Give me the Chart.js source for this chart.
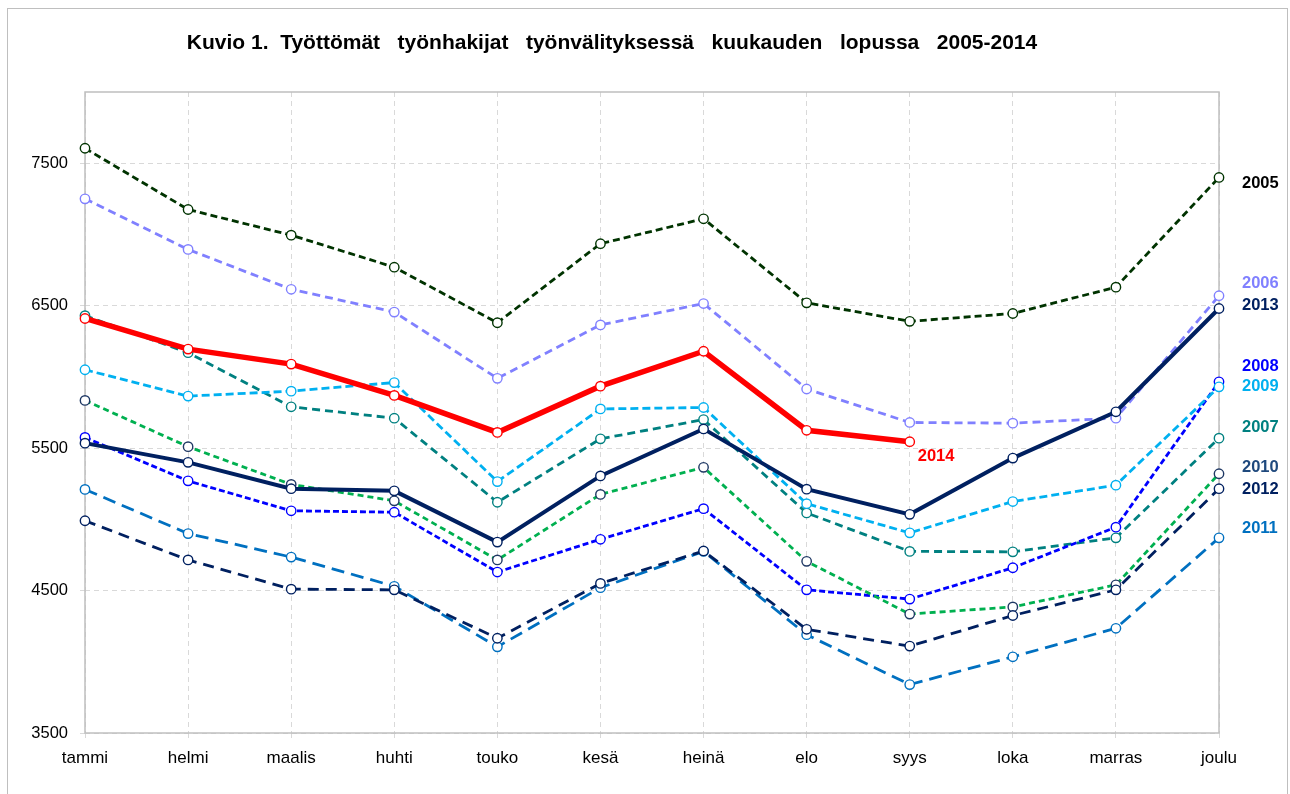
<!DOCTYPE html>
<html lang="fi">
<head>
<meta charset="utf-8">
<title>Kuvio 1</title>
<script src="https://cdn.jsdelivr.net/npm/chart.js@4/dist/chart.umd.min.js"></script>
<style>
  html, body { margin: 0; padding: 0; background: #fff; }
  #wrap { width: 1290px; height: 794px; }
</style>
</head>
<body>
<div id="wrap"><canvas id="chart" width="1290" height="794"></canvas></div>
<script>
// --- Data ---
const months = ['tammi', 'helmi', 'maalis', 'huhti', 'touko', 'kesä', 'heinä', 'elo', 'syys', 'loka', 'marras', 'joulu'];
const yTicks = [3500, 4500, 5500, 6500, 7500];

const y2005 = [7605, 7175, 6995, 6770, 6380, 6935, 7110, 6520, 6390, 6445, 6630, 7400];
const y2006 = [7250, 6895, 6615, 6455, 5990, 6365, 6515, 5915, 5680, 5675, 5710, 6570];
const y2007 = [6430, 6170, 5790, 5710, 5120, 5565, 5700, 5045, 4775, 4772, 4870, 5570];
const y2008 = [5575, 5270, 5060, 5050, 4630, 4860, 5075, 4505, 4440, 4660, 4945, 5965];
const y2009 = [6050, 5865, 5900, 5960, 5265, 5775, 5785, 5110, 4905, 5125, 5240, 5930];
const y2010 = [5835, 5510, 5245, 5130, 4715, 5175, 5365, 4705, 4335, 4385, 4540, 5320];
const y2011 = [5210, 4900, 4735, 4530, 4105, 4520, 4775, 4190, 3840, 4035, 4235, 4870];
const y2012 = [4990, 4715, 4510, 4505, 4165, 4550, 4778, 4228, 4110, 4325, 4505, 5215];
const y2013 = [5535, 5400, 5215, 5200, 4840, 5305, 5635, 5212, 5035, 5430, 5755, 6480];
const y2014 = [6410, 6195, 6090, 5870, 5610, 5935, 6180, 5625, 5545];

const titleText = 'Kuvio 1.  Työttömät   työnhakijat   työnvälityksessä   kuukauden   lopussa   2005-2014';

const FONT = '"Liberation Sans", Arial, sans-serif';

// --- Series styles ---
function series(label, data, color, dash, width, order, pointColor) {
    return {
        label: label,
        data: data,
        borderColor: color,
        borderWidth: width,
        borderDash: dash,
        pointRadius: 4.7,
        pointHoverRadius: 4.7,
        pointBorderWidth: 1.4,
        pointBorderColor: pointColor || color,
        pointBackgroundColor: '#ffffff',
        fill: false,
        tension: 0,
        order: order
    };
}

const datasets = [
    series('2005', y2005, '#003300', [7, 4], 2.8, 9),
    series('2006', y2006, '#8080FF', [8, 5], 2.8, 8),
    series('2007', y2007, '#008080', [8, 5], 2.8, 7),
    series('2008', y2008, '#0000FF', [6, 3], 2.8, 6),
    series('2009', y2009, '#00B0F0', [8, 4], 2.8, 5),
    series('2010', y2010, '#00B050', [6, 4], 2.8, 4, '#1F3864'),
    series('2011', y2011, '#0070C0', [13, 7], 2.8, 3),
    series('2012', y2012, '#002060', [11, 7], 2.8, 2),
    series('2013', y2013, '#002060', [], 4, 1),
    series('2014', y2014, '#FF0000', [], 5.5, 0)
];

// label text, colour and the value it sits at on the y scale
const yearLabels = [
    { text: '2005', color: '#000000', at: 7360 },
    { text: '2006', color: '#8080FF', at: 6658 },
    { text: '2013', color: '#002060', at: 6504 },
    { text: '2008', color: '#0000FF', at: 6075 },
    { text: '2009', color: '#00B0F0', at: 5935 },
    { text: '2007', color: '#008080', at: 5647 },
    { text: '2010', color: '#1F497D', at: 5367 },
    { text: '2012', color: '#002060', at: 5212 },
    { text: '2011', color: '#0070C0', at: 4939 }
];

const decor = {
    id: 'decor',
    beforeDraw(chart) {
        const ctx = chart.ctx;
        ctx.save();
        ctx.strokeStyle = '#bfbfbf';
        ctx.lineWidth = 1;
        ctx.strokeRect(7.5, 8.5, 1280, 800);
        ctx.fillStyle = '#000';
        ctx.font = 'bold 21px ' + FONT;
        ctx.textAlign = 'center';
        ctx.textBaseline = 'middle';
        ctx.fillText(titleText, 612, 43);
        ctx.restore();
    },
    beforeDatasetsDraw(chart) {
        const a = chart.chartArea;
        const ctx = chart.ctx;
        ctx.save();
        ctx.strokeStyle = '#bfbfbf';
        ctx.lineWidth = 1.5;
        ctx.strokeRect(a.left, a.top, a.right - a.left, a.bottom - a.top);
        ctx.restore();
    },
    afterDatasetsDraw(chart) {
        const ctx = chart.ctx;
        const ys = chart.scales.y;
        const xs = chart.scales.x;
        ctx.save();
        ctx.font = 'bold 16.5px ' + FONT;
        ctx.textAlign = 'left';
        ctx.textBaseline = 'middle';
        yearLabels.forEach(l => {
            ctx.fillStyle = l.color;
            ctx.fillText(l.text, chart.chartArea.right + 23, ys.getPixelForValue(l.at));
        });
        // 2014 label under its last point
        const last = y2014.length - 1;
        ctx.fillStyle = '#FF0000';
        ctx.fillText('2014', xs.getPixelForValue(last) + 8, ys.getPixelForValue(y2014[last]) + 15);
        ctx.restore();
    }
};

new Chart(document.getElementById('chart'), {
    type: 'line',
    data: { labels: months, datasets: datasets },
    options: {
        responsive: false,
        animation: false,
        events: [],
        layout: { padding: { left: 7, top: 92, right: 71, bottom: 0 } },
        plugins: {
            legend: { display: false },
            title: { display: false },
            tooltip: { enabled: false }
        },
        scales: {
            x: {
                offset: false,
                afterFit(scale) { scale.height = 61; },
                grid: {
                    color: '#d9d9d9',
                    tickLength: 5
                },
                border: { display: false, dash: [5, 4] },
                ticks: {
                    color: '#000',
                    padding: 10,
                    maxRotation: 0,
                    font: { family: FONT, size: 17 }
                }
            },
            y: {
                min: 3500,
                max: 8000,
                afterFit(scale) { scale.width = 78; },
                afterBuildTicks(scale) {
                    scale.ticks = yTicks.map(v => ({ value: v }));
                },
                grid: {
                    color: '#d9d9d9',
                    tickLength: 5
                },
                border: { display: false, dash: [5, 4] },
                ticks: {
                    color: '#000',
                    padding: 12,
                    callback: v => String(v),
                    font: { family: FONT, size: 16.5 }
                }
            }
        }
    },
    plugins: [decor]
});
</script>
</body>
</html>
